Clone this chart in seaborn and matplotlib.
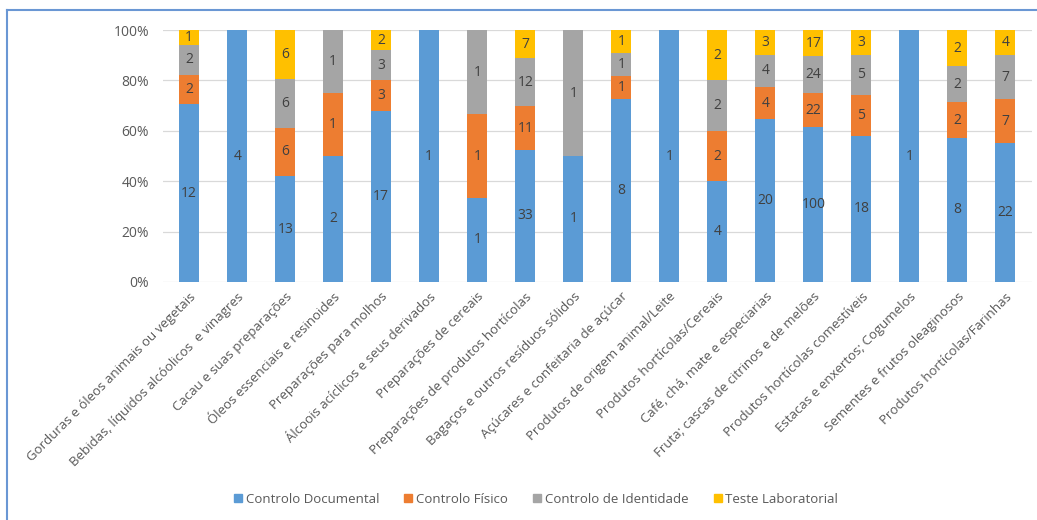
import numpy as np
import pandas as pd
import matplotlib
matplotlib.use("Agg")
import matplotlib.pyplot as plt
from matplotlib.lines import Line2D
import seaborn as sns

categories = [
    "Gorduras e óleos animais ou vegetais",
    "Bebidas, líquidos alcóolicos  e vinagres",
    "Cacau e suas preparações",
    "Óleos essenciais e resinoides",
    "Preparações para molhos",
    "Álcoois acíclicos e seus derivados",
    "Preparações de cereais",
    "Preparações de produtos hortícolas",
    "Bagaços e outros resíduos sólidos",
    "Açúcares e confeitaria de açúcar",
    "Produtos de origem animal/Leite",
    "Produtos hortícolas/Cereais",
    "Café, chá, mate e especiarias",
    "Fruta; cascas de citrinos e de melões",
    "Produtos hortícolas comestíveis",
    "Estacas e enxertos; Cogumelos",
    "Sementes e frutos oleaginosos",
    "Produtos hortícolas/Farinhas",
]

series_names = ["Controlo Documental", "Controlo Físico",
                "Controlo de Identidade", "Teste Laboratorial"]

controlo_documental = [12, 4, 13, 2, 17, 1, 1, 33, 1, 8, 1, 4, 20, 100, 18, 1, 8, 22]
controlo_fisico = [2, 0, 6, 1, 3, 0, 1, 11, 0, 1, 0, 2, 4, 22, 5, 0, 2, 7]
controlo_identidade = [2, 0, 6, 1, 3, 0, 1, 12, 1, 1, 0, 2, 4, 24, 5, 0, 2, 7]
teste_laboratorial = [1, 0, 6, 0, 2, 0, 0, 7, 0, 1, 0, 2, 3, 17, 3, 0, 2, 4]

colors = ["#5B9BD5", "#ED7D31", "#A5A5A5", "#FFC000"]

counts = np.array([controlo_documental, controlo_fisico,
                   controlo_identidade, teste_laboratorial], dtype=float)
totals = counts.sum(axis=0)
shares = counts / totals
tops = np.cumsum(shares, axis=0)

plt.rcParams["font.family"] = ["Open Sans", "DejaVu Sans"]

fig = plt.figure(figsize=(10.37, 5.2), dpi=100)
ax = fig.add_axes([0.157, 0.458, 0.838, 0.484])

# Stacked percentages: draw the cumulative top of each layer, tallest first
for i in range(3, -1, -1):
    df = pd.DataFrame({"cat": categories, "val": tops[i]})
    sns.barplot(data=df, x="cat", y="val", color=colors[i], width=0.42,
                saturation=1, ax=ax, zorder=2, errorbar=None)

# Value labels centred in each segment
for i in range(4):
    bottoms = tops[i] - shares[i]
    for j in range(len(categories)):
        v = counts[i, j]
        if v > 0:
            ax.text(j, bottoms[j] + shares[i, j] / 2, f"{int(v)}",
                    ha="center", va="center", fontsize=10, color="#404040",
                    zorder=3)

ax.set_ylim(0, 1)
ax.set_xlim(-0.55, len(categories) - 0.45)
ax.set_yticks(np.arange(0, 1.01, 0.2))
ax.set_yticklabels([f"{int(round(t * 100))}%" for t in np.arange(0, 1.01, 0.2)],
                   fontsize=10, color="#595959")
ax.yaxis.grid(True, color="#D9D9D9", linewidth=0.9, zorder=0)
ax.set_axisbelow(True)
for s in ax.spines.values():
    s.set_visible(False)
ax.tick_params(axis="both", length=0)
ax.tick_params(axis="y", pad=10)
ax.set_xlabel("")
ax.set_ylabel("")
ax.set_xticks(range(len(categories)))
ax.set_xticklabels(categories, rotation=45, ha="right", rotation_mode="anchor",
                   fontsize=9.5, color="#595959")
ax.tick_params(axis="x", pad=6)

handles = [Line2D([0], [0], marker="s", linestyle="none", markersize=6,
                  markerfacecolor=c, markeredgecolor=c) for c in colors]
fig.legend(handles, series_names, loc="center", bbox_to_anchor=(0.515, 0.04),
           ncol=4, frameon=False, fontsize=9.5, handletextpad=0.0,
           handlelength=1.2, columnspacing=1.6, labelcolor="#595959")

# Chart frame
frame_color = "#6A97D4"
fig.add_artist(Line2D([7 / 1037, 1.0], [1 - 10 / 520, 1 - 10 / 520],
                      color=frame_color, linewidth=1.5))
fig.add_artist(Line2D([7 / 1037, 7 / 1037], [0.0, 1 - 10 / 520],
                      color=frame_color, linewidth=1.5))

fig.savefig("out.png", dpi=100, facecolor="white")
